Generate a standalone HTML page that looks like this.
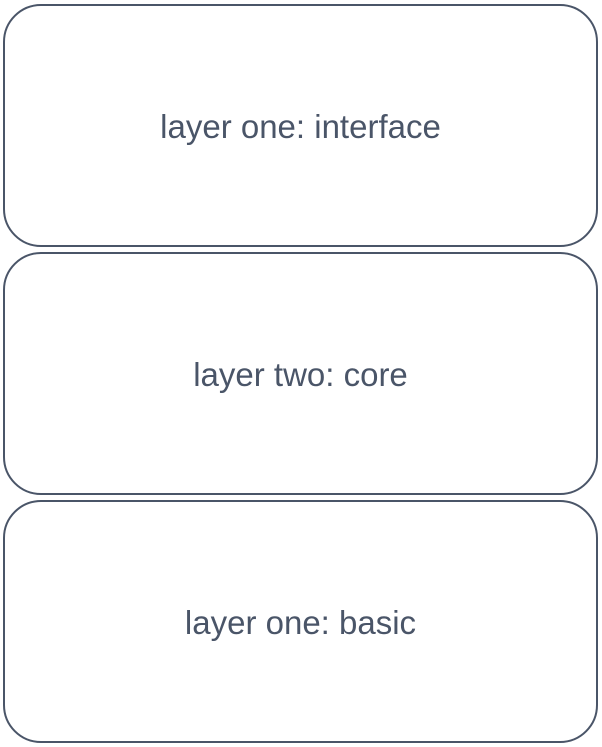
<!DOCTYPE html>
<html><head><style>
html,body{margin:0;padding:0;background:#fff;}
body{width:602px;height:747px;position:relative;overflow:hidden;font-family:"Liberation Sans",sans-serif;}
.b{position:absolute;left:3px;width:591px;height:237px;border:2px solid #4a5568;border-radius:38px;display:flex;align-items:center;justify-content:center;color:#4a5568;font-size:33px;padding-top:2px;box-sizing:content-box;}
</style></head><body>
<div class="b" style="top:4px">layer one: interface</div>
<div class="b" style="top:252px">layer two: core</div>
<div class="b" style="top:500px">layer one: basic</div>
</body></html>
